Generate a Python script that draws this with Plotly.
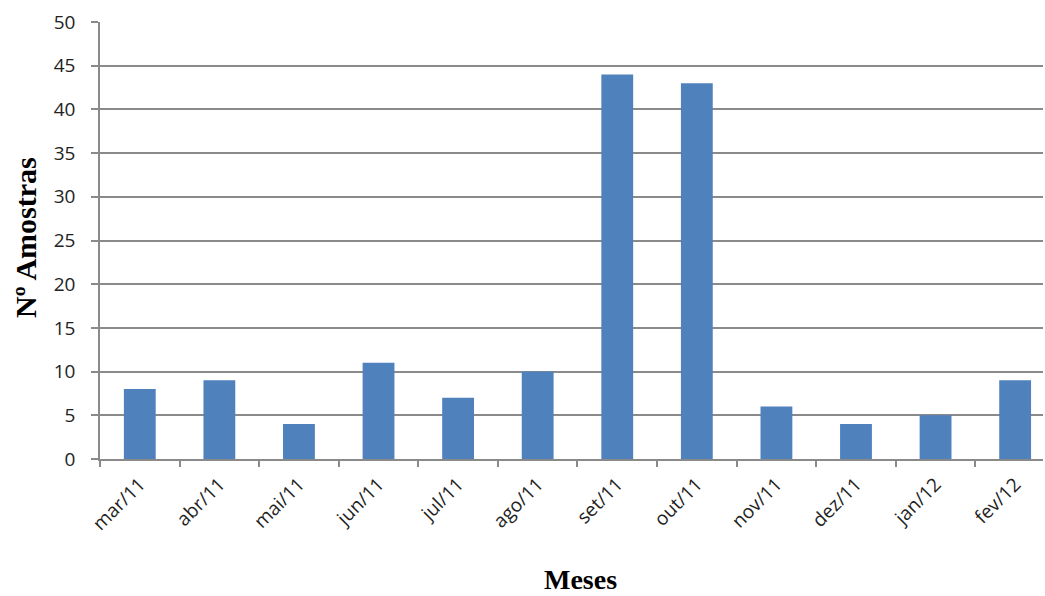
import plotly.graph_objects as go

# Monthly sample counts
months = ["mar/11", "abr/11", "mai/11", "jun/11", "jul/11", "ago/11",
          "set/11", "out/11", "nov/11", "dez/11", "jan/12", "fev/12"]
samples = [8, 9, 4, 11, 7, 10, 44, 43, 6, 4, 5, 9]

y_ticks = list(range(0, 51, 5))

grid_color = "#8a8a8a"
sans = "Open Sans, Liberation Sans, sans-serif"
serif = "Liberation Serif, Times New Roman, serif"

fig = go.Figure(
    go.Bar(
        x=months,
        y=samples,
        marker=dict(color="#4F81BD", line=dict(width=0)),
        width=0.4,
    )
)

fig.update_layout(
    width=1045,
    height=596,
    margin=dict(l=100, r=2, t=22, b=137),
    plot_bgcolor="white",
    paper_bgcolor="white",
    showlegend=False,
    xaxis=dict(
        type="category",
        range=[-0.5, 11.35],
        showgrid=False,
        showline=True,
        linecolor=grid_color,
        linewidth=1.5,
        ticks="outside",
        tickson="boundaries",
        ticklen=6,
        tickcolor=grid_color,
        tickwidth=1.5,
        tickangle=-45,
        ticklabelstandoff=5,
        tickfont=dict(family=sans, size=19, color="#222222"),
    ),
    yaxis=dict(
        range=[0, 50],
        tickvals=y_ticks,
        showgrid=True,
        gridcolor=grid_color,
        gridwidth=1.5,
        showline=True,
        linecolor=grid_color,
        linewidth=1.5,
        ticks="outside",
        ticklen=7,
        tickcolor=grid_color,
        tickwidth=1.5,
        ticklabelstandoff=12,
        tickfont=dict(family=sans, size=19, color="#222222"),
        zeroline=False,
    ),
)

# Axis titles placed in paper coordinates derived from the plot-area pixels
plot_w, plot_h = 943, 437
fig.add_annotation(text="<b>Nº Amostras</b>", xref="paper", yref="paper",
                   x=(26 - 100) / plot_w, y=(459 - 238) / plot_h,
                   xanchor="center", yanchor="middle",
                   showarrow=False, textangle=-90,
                   font=dict(family=serif, size=30, color="#000000"))
fig.add_annotation(text="<b>Meses</b>", xref="paper", yref="paper",
                   x=(580 - 100) / plot_w, y=(459 - 579) / plot_h,
                   xanchor="center", yanchor="middle",
                   showarrow=False,
                   font=dict(family=serif, size=28, color="#000000"))

fig.write_html("out.html")
